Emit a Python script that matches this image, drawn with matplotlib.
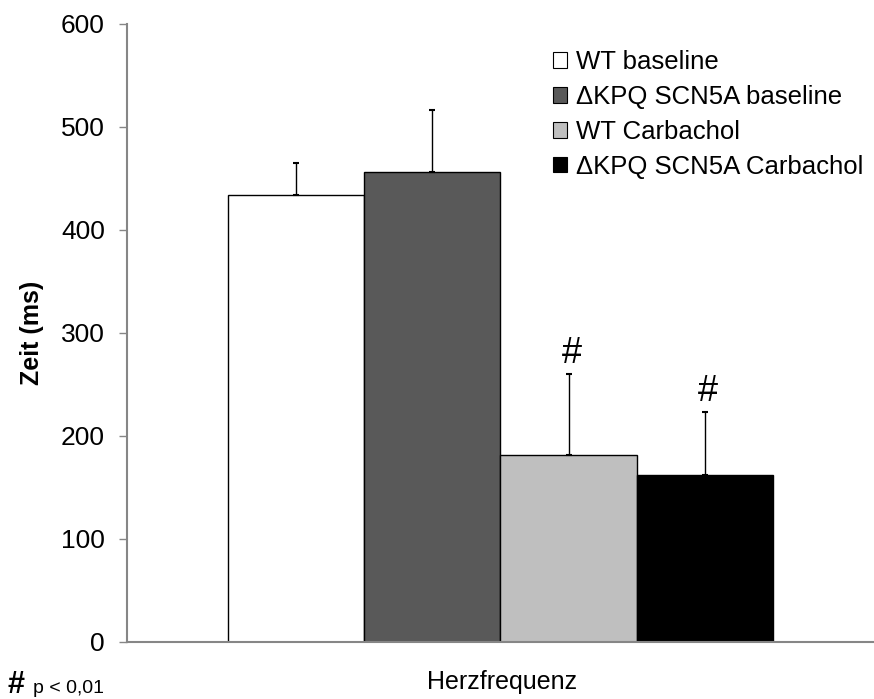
import matplotlib
matplotlib.use('Agg')
import matplotlib.pyplot as plt
from matplotlib.patches import Patch

plt.rcParams['font.family'] = ['Liberation Sans', 'DejaVu Sans']

groups = ['WT baseline', '\u0394KPQ SCN5A baseline', 'WT Carbachol', '\u0394KPQ SCN5A Carbachol']
means = [434, 456, 181, 162]
sem = [31, 60, 79, 61]
signif = ['', '', '#', '#']
colors = ['white', '#595959', '#bfbfbf', 'black']

fig = plt.figure(figsize=(8.74, 6.99), dpi=100)
ax = fig.add_axes([0.1453, 0.082, 0.8547, 0.8837])

width = 0.1825
offsets = [(i - 1.5) * width for i in range(len(groups))]
for i, (x, m, e) in enumerate(zip(offsets, means, sem)):
    ax.bar(x, m, width=width, color=colors[i], edgecolor='black', linewidth=1, zorder=2)
    ax.errorbar(x, m, yerr=[[0], [e]], fmt='none', ecolor='black', elinewidth=1,
                capsize=2.5, capthick=1.5, zorder=3)
    if signif[i]:
        ax.text(x + 0.004, m + e + 3, signif[i], ha='center', va='bottom', fontsize=26)

ax.set_xlim(-0.5, 0.5)
ax.set_ylim(0, 600)
ax.set_yticks(range(0, 601, 100))
ax.set_xticks([])
ax.tick_params(axis='y', labelsize=19, length=6, width=1, color='#868686', pad=10)
for side in ['top', 'right']:
    ax.spines[side].set_visible(False)
for side in ['left', 'bottom']:
    ax.spines[side].set_color('#868686')
    ax.spines[side].set_linewidth(1.5)

ax.set_ylabel('Zeit (ms)', fontsize=18, fontweight='bold')
ax.yaxis.set_label_coords(-0.111, 0.5)
fig.text(0.575, 0.024, 'Herzfrequenz', ha='center', va='center', fontsize=18)

handles = [Patch(facecolor=c, edgecolor='black', linewidth=0.8) for c in colors]
fig.legend(handles, groups, loc='upper left', bbox_to_anchor=(0.6327, 0.928),
           frameon=False, fontsize=18.5, borderpad=0, borderaxespad=0,
           handlelength=0.55, handleheight=0.55, handletextpad=0.35, labelspacing=0.42)

fig.text(0.009, 0.008, '#', fontsize=22, fontweight='bold', va='baseline')
fig.text(0.038, 0.008, 'p < 0,01', fontsize=14, va='baseline')

fig.savefig('out.png', dpi=100)
